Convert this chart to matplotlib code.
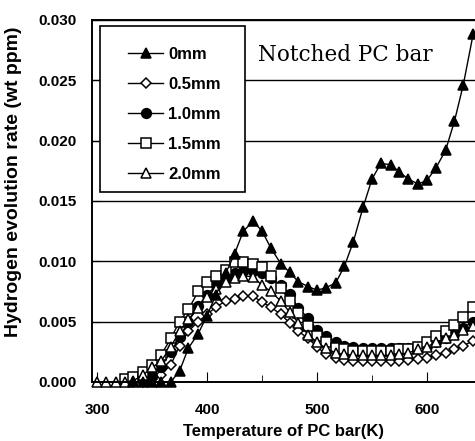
import matplotlib.pyplot as plt
from matplotlib.patches import Rectangle
from matplotlib.ticker import MultipleLocator

# Temperature grid of the TDS measurement (K)
temp = [300, 308, 317, 325, 333, 342, 350, 358, 367, 375, 383, 392, 400, 408,
        417, 425, 433, 442, 450, 458, 467, 475, 483, 492, 500, 508, 517, 525,
        533, 542, 550, 558, 567, 575, 583, 592, 600, 608, 617, 625, 633, 642]

# Hydrogen evolution rate (wt ppm) for each notch depth
rate_0mm = [None, None, None, None, 0.0, 0.0, 0.0, 0.0, 0.0, 0.0009, 0.0028, 0.0040,
            0.0055, 0.0072, 0.0090, 0.0106, 0.0125, 0.0133, 0.0125, 0.0111, 0.0098,
            0.0091, 0.0083, 0.0079, 0.0076, 0.0078, 0.0082, 0.0096, 0.0116, 0.0145,
            0.0168, 0.0181, 0.0180, 0.0174, 0.0168, 0.0164, 0.0167, 0.0177, 0.0192,
            0.0216, 0.0246, 0.0288]
rate_05mm = [None, None, None, None, 0.0, 0.0, 0.0002, 0.0006, 0.0014, 0.0030, 0.0042,
             0.0050, 0.0056, 0.0062, 0.0067, 0.0069, 0.0071, 0.0071, 0.0066, 0.0062,
             0.0056, 0.0049, 0.0042, 0.0036, 0.0029, 0.0023, 0.0020, 0.0018, 0.0017,
             0.0017, 0.0017, 0.0017, 0.0017, 0.0017, 0.0018, 0.0019, 0.0020, 0.0022,
             0.0024, 0.0027, 0.0030, 0.0034]
rate_10mm = [None, None, None, None, None, 0.0001, 0.0005, 0.0012, 0.0025, 0.0037,
             0.0050, 0.0063, 0.0072, 0.0080, 0.0086, 0.0090, 0.0092, 0.0092, 0.0090,
             0.0086, 0.0080, 0.0073, 0.0061, 0.0053, 0.0043, 0.0038, 0.0033, 0.0030,
             0.0029, 0.0028, 0.0028, 0.0028, 0.0028, 0.0028, 0.0028, 0.0029, 0.0030,
             0.0033, 0.0036, 0.0040, 0.0045, 0.0050]
rate_15mm = [None, None, None, 0.0002, 0.0004, 0.0008, 0.0014, 0.0022, 0.0036, 0.0050,
             0.0060, 0.0075, 0.0083, 0.0088, 0.0093, 0.0099, 0.0099, 0.0098, 0.0095,
             0.0088, 0.0078, 0.0067, 0.0057, 0.0046, 0.0038, 0.0033, 0.0028, 0.0027,
             0.0026, 0.0026, 0.0026, 0.0026, 0.0026, 0.0027, 0.0027, 0.0029, 0.0033,
             0.0038, 0.0042, 0.0047, 0.0054, 0.0062]
rate_20mm = [0.0, 0.0, 0.0, 0.0, 0.0001, 0.0006, 0.0012, 0.0017, 0.0029, 0.0042, 0.0052,
             0.0061, 0.0070, 0.0077, 0.0083, 0.0086, 0.0088, 0.0087, 0.0080, 0.0075,
             0.0067, 0.0058, 0.0049, 0.0039, 0.0033, 0.0028, 0.0024, 0.0023, 0.0022,
             0.0022, 0.0022, 0.0022, 0.0022, 0.0023, 0.0024, 0.0027, 0.0029, 0.0033,
             0.0036, 0.0039, 0.0043, 0.0046]

labels = ['0mm', '0.5mm', '1.0mm', '1.5mm', '2.0mm']

plt.rcParams['font.family'] = ['Liberation Sans', 'DejaVu Sans']
plt.rcParams['font.weight'] = 'bold'

fig = plt.figure(figsize=(4.75, 4.41), dpi=100)
ax = fig.add_axes([0.194, 0.134, 0.806, 0.821])

# series: (values, marker, face colour)
series = [
    (rate_0mm, '^', 'black'),
    (rate_05mm, 'D', 'white'),
    (rate_10mm, 'o', 'black'),
    (rate_15mm, 's', 'white'),
    (rate_20mm, '^', 'white'),
]

handles = []
for (vals, marker, face), lab in zip(series, labels):
    xs = [t for t, v in zip(temp, vals) if v is not None]
    ys = [v for v in vals if v is not None]
    msize = 5.5 if marker == 'D' else 7
    h, = ax.plot(xs, ys, color='black', lw=1.0, marker=marker, ms=msize,
                 mfc=face, mec='black', mew=1.1, label=lab, clip_on=False)
    handles.append(h)
# 0mm curve sits on top of the others
handles[0].set_zorder(5)

ax.set_xlim(295.5, 643.7)
ax.set_ylim(0, 0.030)

ax.xaxis.set_major_locator(MultipleLocator(100))
ax.xaxis.set_minor_locator(MultipleLocator(50))
ax.yaxis.set_major_locator(MultipleLocator(0.005))
ax.yaxis.set_major_formatter(plt.FuncFormatter(lambda v, p: f'{v:.3f}'))

ax.tick_params(axis='both', which='both', direction='in', labelsize=11)
ax.tick_params(axis='x', which='major', length=7, pad=15)
ax.tick_params(axis='x', which='minor', length=5)
ax.tick_params(axis='y', which='major', length=6, pad=11)

# horizontal grid lines
ax.grid(axis='y', color='black', lw=1.0)
ax.set_axisbelow(True)

ax.spines['right'].set_visible(False)
for s in ['left', 'bottom', 'top']:
    ax.spines[s].set_linewidth(1.4)

ax.set_xlabel('Temperature of PC bar(K)', fontsize=12, fontweight='bold')
ax.xaxis.set_label_coords(0.5, -0.117)
ax.set_ylabel('Hydrogen evolution rate (wt ppm)', fontsize=14, fontweight='bold')
ax.yaxis.set_label_coords(-0.183, 0.552)

# legend box drawn by hand (padding is uneven in the original)
box = Rectangle((0.021, 0.525), 0.378, 0.458, transform=ax.transAxes,
                facecolor='white', edgecolor='black', lw=1.2, zorder=9)
ax.add_patch(box)
leg = ax.legend(handles=handles, loc='upper left', bbox_to_anchor=(0.094, 0.925),
                fontsize=12, frameon=False, handlelength=2.1, labelspacing=0.9,
                borderpad=0, handletextpad=0.3, borderaxespad=0)
leg.set_zorder(10)

ax.text(0.433, 0.903, 'Notched PC bar', fontsize=15.5, family='DejaVu Serif',
        fontweight='normal', transform=ax.transAxes, va='center')

fig.savefig('out.png', dpi=100)
